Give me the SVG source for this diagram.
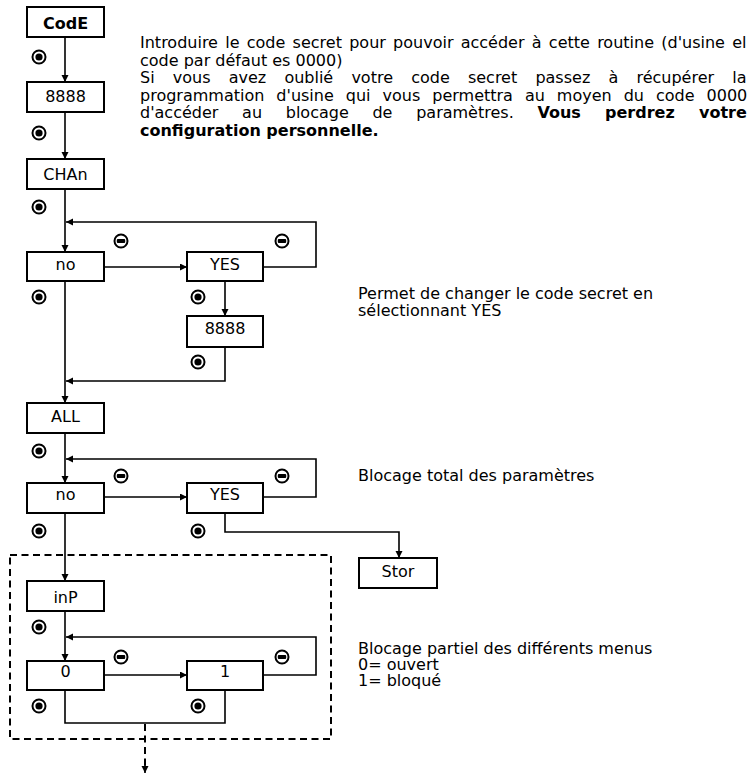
<svg xmlns="http://www.w3.org/2000/svg" width="751" height="779" viewBox="0 0 751 779">
  <style>
    .box { fill: #ffffff; stroke: #000000; stroke-width: 2; }
    .lbl { font-family: "DejaVu Sans", "Liberation Sans", sans-serif; font-size: 16px; fill: #000000; text-anchor: middle; }
    .txt { font-family: "DejaVu Sans", "Liberation Sans", sans-serif; font-size: 16px; fill: #000000; }
    .b { font-weight: bold; }
    .wire { fill: none; stroke: #000000; stroke-width: 1.6; }
    .dash { fill: none; stroke: #000000; stroke-width: 2; stroke-dasharray: 7 4.5; }
  </style>
  <defs>
    <marker id="arrow" markerUnits="userSpaceOnUse" markerWidth="8" markerHeight="8" refX="7" refY="3.5" orient="auto">
      <path d="M0,0 L7,3.5 L0,7 Z" fill="#000000"/>
    </marker>
    <!-- "enter" key symbol -->
    <g id="keyEnter">
      <circle r="6.5" fill="#ffffff" stroke="#000000" stroke-width="2"/>
      <circle r="3.6" fill="#000000"/>
    </g>
    <!-- "down / minus" key symbol -->
    <g id="keyMinus">
      <circle r="6.5" fill="#ffffff" stroke="#000000" stroke-width="2"/>
      <rect x="-4.2" y="-2" width="8.4" height="4" rx="1" fill="#000000"/>
    </g>
  </defs>

  <!-- connectors -->
  <g id="connectors">
    <line class="wire" x1="65" y1="37" x2="65" y2="82" marker-end="url(#arrow)"/>
    <line class="wire" x1="65" y1="112" x2="65" y2="159" marker-end="url(#arrow)"/>
    <line class="wire" x1="65" y1="189" x2="65" y2="252" marker-end="url(#arrow)"/>
    <polyline class="wire" points="263,267 316,267 316,222 66,222" marker-end="url(#arrow)"/>
    <line class="wire" x1="104" y1="267" x2="187" y2="267" marker-end="url(#arrow)"/>
    <line class="wire" x1="225" y1="281" x2="225" y2="316" marker-end="url(#arrow)"/>
    <polyline class="wire" points="225,347 225,381 66,381" marker-end="url(#arrow)"/>
    <line class="wire" x1="65" y1="281" x2="65" y2="403" marker-end="url(#arrow)"/>

    <line class="wire" x1="65" y1="433" x2="65" y2="483" marker-end="url(#arrow)"/>
    <polyline class="wire" points="263,497 316,497 316,459 66,459" marker-end="url(#arrow)"/>
    <line class="wire" x1="104" y1="497" x2="187" y2="497" marker-end="url(#arrow)"/>
    <polyline class="wire" points="225,513 225,532 399,532 399,558" marker-end="url(#arrow)"/>
    <line class="wire" x1="65" y1="513" x2="65" y2="581" marker-end="url(#arrow)"/>

    <line class="wire" x1="65" y1="611" x2="65" y2="661" marker-end="url(#arrow)"/>
    <polyline class="wire" points="263,675 316,675 316,637 66,637" marker-end="url(#arrow)"/>
    <line class="wire" x1="104" y1="675" x2="187" y2="675" marker-end="url(#arrow)"/>
    <polyline class="wire" points="65,690 65,723 225,723 225,690"/>
    <line class="dash" x1="145" y1="724" x2="145" y2="766"/>
    <line class="wire" x1="145" y1="764" x2="145" y2="773" marker-end="url(#arrow)"/>
  </g>

  <!-- partial lock section frame -->
  <rect id="partial-frame" class="dash" x="10" y="555" width="321" height="184"/>

  <!-- nodes -->
  <g id="n-code">
    <rect class="box" x="27" y="7" width="77" height="30"/>
    <text class="lbl b" x="65.5" y="28.5" font-size="18.5">CodE</text>
  </g>
  <g id="n-code-value">
    <rect class="box" x="27" y="82" width="77" height="30"/>
    <text class="lbl" x="65.5" y="102">8888</text>
  </g>
  <g id="n-chan">
    <rect class="box" x="27" y="159" width="77" height="30"/>
    <text class="lbl" x="65.5" y="180">CHAn</text>
  </g>
  <g id="n-chan-no">
    <rect class="box" x="27" y="252" width="77" height="29"/>
    <text class="lbl" x="65.5" y="270">no</text>
  </g>
  <g id="n-chan-yes">
    <rect class="box" x="187" y="252" width="76" height="29"/>
    <text class="lbl" x="225" y="270">YES</text>
  </g>
  <g id="n-new-code">
    <rect class="box" x="187" y="316" width="76" height="31"/>
    <text class="lbl" x="225" y="334">8888</text>
  </g>
  <g id="n-all">
    <rect class="box" x="27" y="403" width="77" height="30"/>
    <text class="lbl" x="65.5" y="422">ALL</text>
  </g>
  <g id="n-all-no">
    <rect class="box" x="27" y="483" width="77" height="30"/>
    <text class="lbl" x="65.5" y="500">no</text>
  </g>
  <g id="n-all-yes">
    <rect class="box" x="187" y="483" width="76" height="30"/>
    <text class="lbl" x="225" y="500">YES</text>
  </g>
  <g id="n-stor">
    <rect class="box" x="359" y="558" width="78" height="30"/>
    <text class="lbl" x="398" y="577">Stor</text>
  </g>
  <g id="n-inp">
    <rect class="box" x="27" y="581" width="77" height="30"/>
    <text class="lbl" x="65.5" y="603">inP</text>
  </g>
  <g id="n-inp-0">
    <rect class="box" x="27" y="661" width="77" height="29"/>
    <text class="lbl" x="65.5" y="677">0</text>
  </g>
  <g id="n-inp-1">
    <rect class="box" x="187" y="661" width="76" height="29"/>
    <text class="lbl" x="225" y="677">1</text>
  </g>

  <!-- key symbols -->
  <g id="keys">
    <use href="#keyEnter" x="39" y="57"/>
    <use href="#keyEnter" x="39" y="133"/>
    <use href="#keyEnter" x="39" y="207"/>
    <use href="#keyEnter" x="39" y="297"/>
    <use href="#keyEnter" x="198" y="297"/>
    <use href="#keyEnter" x="198" y="362"/>
    <use href="#keyEnter" x="39" y="451"/>
    <use href="#keyEnter" x="39" y="531"/>
    <use href="#keyEnter" x="198" y="531"/>
    <use href="#keyEnter" x="39" y="627"/>
    <use href="#keyEnter" x="39" y="706"/>
    <use href="#keyEnter" x="198" y="706"/>
    <use href="#keyMinus" x="121" y="241"/>
    <use href="#keyMinus" x="282" y="241"/>
    <use href="#keyMinus" x="121" y="476"/>
    <use href="#keyMinus" x="282" y="476"/>
    <use href="#keyMinus" x="121" y="657"/>
    <use href="#keyMinus" x="282" y="657"/>
  </g>

  <!-- notes -->
  <g id="note-code">
    <text class="txt" x="140" y="48" word-spacing="2.17">Introduire le code secret pour pouvoir accéder à cette routine (d'usine el</text>
    <text class="txt" x="140" y="65.5">code par défaut es 0000)</text>
    <text class="txt" x="140" y="83" word-spacing="13.09">Si vous avez oublié votre code secret passez à récupérer la</text>
    <text class="txt" x="140" y="100.5" word-spacing="6.91">programmation d'usine qui vous permettra au moyen du code 0000</text>
    <text class="txt" x="140" y="118" word-spacing="18.63">d'accéder au blocage de paramètres. <tspan class="b">Vous perdrez votre</tspan></text>
    <text class="txt b" x="140" y="135.5">configuration personnelle.</text>
  </g>
  <g id="note-chan">
    <text class="txt" x="358" y="299">Permet de changer le code secret en</text>
    <text class="txt" x="358" y="316">sélectionnant YES</text>
  </g>
  <g id="note-all">
    <text class="txt" x="358" y="481">Blocage total des paramètres</text>
  </g>
  <g id="note-inp">
    <text class="txt" x="358" y="654">Blocage partiel des différents menus</text>
    <text class="txt" x="358" y="670">0= ouvert</text>
    <text class="txt" x="358" y="686">1= bloqué</text>
  </g>
</svg>
